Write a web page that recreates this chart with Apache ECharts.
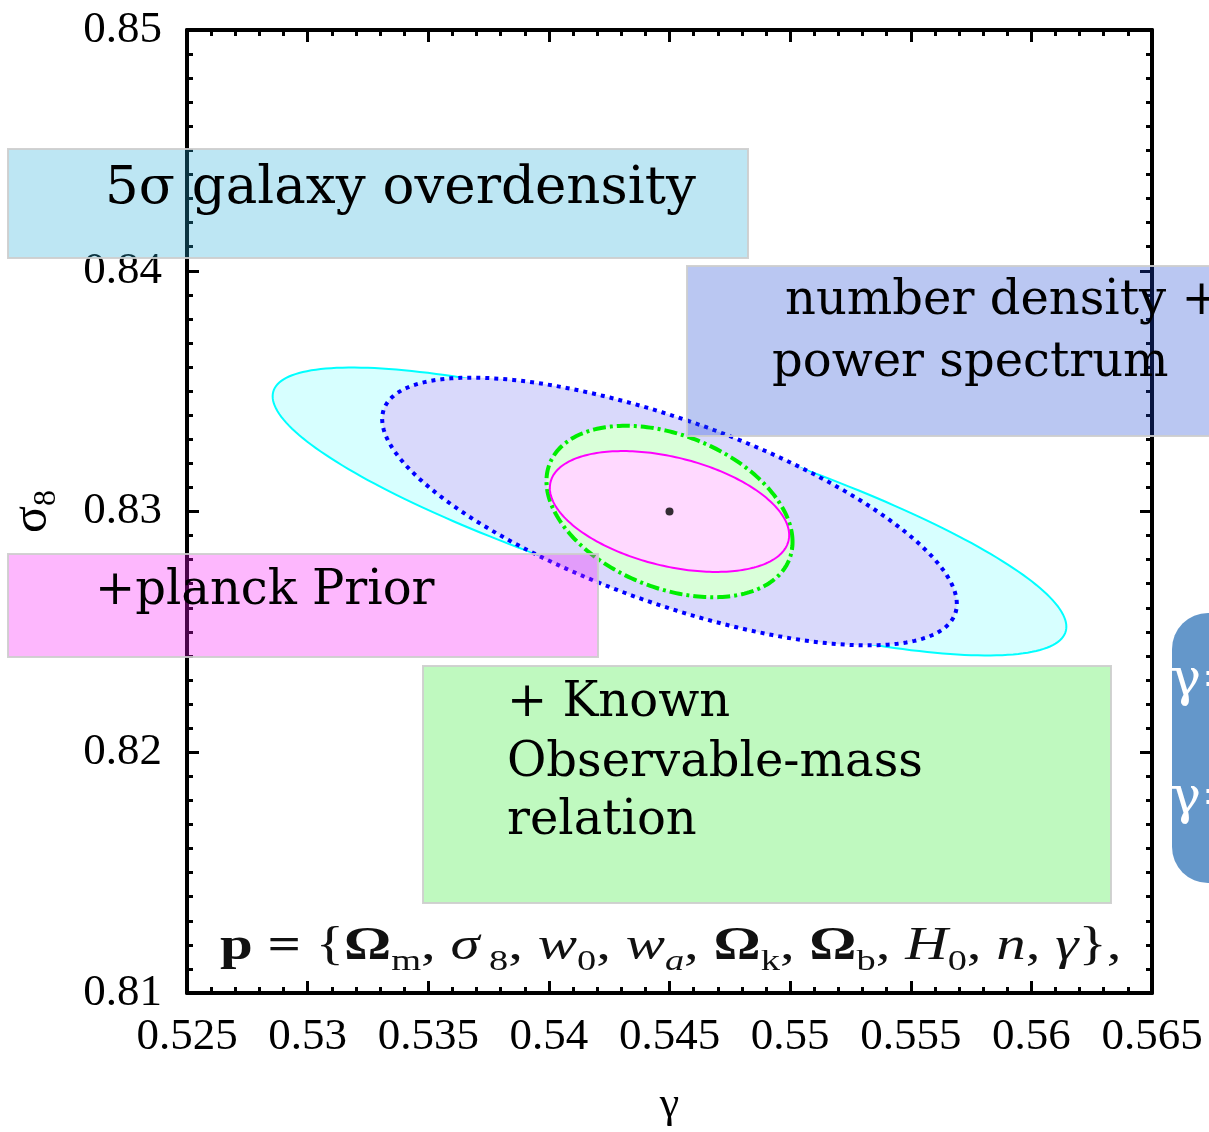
<!DOCTYPE html>
<html><head><meta charset="utf-8">
<script src="https://cdn.jsdelivr.net/npm/echarts@6/dist/echarts.min.js"></script>
<style>html,body{margin:0;padding:0;background:#fff}#c{width:1209px;height:1132px}</style>
</head><body><div id="c"></div>
<script>
// ---- data ----
const gammaTicks = [0.525, 0.53, 0.535, 0.54, 0.545, 0.55, 0.555, 0.56, 0.565];
const sigma8Ticks = [0.81, 0.82, 0.83, 0.84, 0.85];
const contourNames = ['5σ galaxy overdensity', 'number density + power spectrum', '+ Known Observable-mass relation', '+planck Prior'];
const centerGamma = [0.5450, 0.5450, 0.5450, 0.5450];
const centerSigma8 = [0.8300, 0.8300, 0.8300, 0.8300];
const halfWidthGamma = [0.01645, 0.01191, 0.00510, 0.00496];
const halfWidthSigma8 = [0.00598, 0.00556, 0.00356, 0.00251];
const correlation = [-0.80, -0.69, -0.355, -0.39];
const fiducialGamma = [0.545];
const fiducialSigma8 = [0.830];

// ---- styles ----
const serif = '"Liberation Serif", "Times New Roman", serif';
const boxSerif = '"DejaVu Serif", serif';
const contourStyles = [
  { fill: '#d7ffff', stroke: '#00ffff', lineWidth: 2, lineDash: null },
  { fill: '#d9d9fb', stroke: '#0000ff', lineWidth: 4, lineDash: [4, 5] },
  { fill: '#d9ffd9', stroke: '#00ee00', lineWidth: 4, lineDash: [13, 4, 3, 4] },
  { fill: '#ffd9ff', stroke: '#ff00ff', lineWidth: 2, lineDash: null }
];

const ellipseData = contourNames.map((n, i) => [centerGamma[i], centerSigma8[i], halfWidthGamma[i], halfWidthSigma8[i], correlation[i]]);

function renderEllipse(params, api) {
  const cx = api.value(0), cy = api.value(1), a = api.value(2), b = api.value(3), r = api.value(4);
  const s = Math.sqrt(1 - r * r);
  const pts = [];
  const N = 240;
  for (let k = 0; k < N; k++) {
    const t = 2 * Math.PI * k / N;
    pts.push(api.coord([cx + a * Math.cos(t), cy + b * (r * Math.cos(t) + s * Math.sin(t))]));
  }
  const st = contourStyles[params.dataIndex];
  return {
    type: 'polygon',
    shape: { points: pts },
    style: { fill: st.fill, stroke: st.stroke, lineWidth: st.lineWidth, lineDash: st.lineDash, lineCap: 'butt' }
  };
}

function xAxisCfg(pos, show) {
  return {
    type: 'value', position: pos, min: gammaTicks[0], max: gammaTicks[gammaTicks.length - 1], interval: 0.005,
    axisLine: { show: true, onZero: false, lineStyle: { color: '#000', width: 4 } },
    axisTick: { show: true, inside: true, length: 12, lineStyle: { color: '#000', width: 3 } },
    minorTick: { show: true, splitNumber: 5, length: 6, lineStyle: { color: '#000', width: 3 } },
    splitLine: { show: false }, minorSplitLine: { show: false },
    axisLabel: { show: show, interval: 0, margin: 22, fontFamily: serif, fontSize: 45, color: '#000',
      formatter: v => String(+(+v).toFixed(3)) },
    name: show ? 'γ' : '', nameLocation: 'middle', nameGap: 90,
    nameTextStyle: { fontFamily: serif, fontSize: 44, color: '#000' }
  };
}
function yAxisCfg(pos, show) {
  return {
    type: 'value', position: pos, min: sigma8Ticks[0], max: sigma8Ticks[sigma8Ticks.length - 1], interval: 0.01,
    axisLine: { show: true, onZero: false, lineStyle: { color: '#000', width: 4 } },
    axisTick: { show: true, inside: true, length: 12, lineStyle: { color: '#000', width: 3 } },
    minorTick: { show: true, splitNumber: 10, length: 6, lineStyle: { color: '#000', width: 3 } },
    splitLine: { show: false }, minorSplitLine: { show: false },
    axisLabel: { show: show, interval: 0, margin: 25, fontFamily: serif, fontSize: 45, color: '#000',
      formatter: v => String(+(+v).toFixed(2)) },
    name: show ? '{m|σ}{s|8}' : '', nameLocation: 'middle', nameGap: 124,
    nameTextStyle: { fontFamily: serif, color: '#000',
      rich: { m: { fontFamily: serif, fontSize: 50, lineHeight: 60, color: '#000' },
              s: { fontFamily: serif, fontSize: 32, verticalAlign: 'bottom', color: '#000' } } }
  };
}

function boxText(str, x, baseline, size, color) {
  return { type: 'text', z: 101, x: x, y: baseline - 0.35 * size,
    style: { text: str, fontFamily: boxSerif, fontSize: size, fill: color || '#000',
      textVerticalAlign: 'middle', verticalAlign: 'middle', textAlign: 'left', align: 'left' } };
}
function box(x, y, w, h, fill, r) {
  return { type: 'rect', z: 100, shape: { x: x, y: y, width: w, height: h, r: r || 0 },
    style: { fill: fill, stroke: r ? null : 'rgba(205,205,205,0.9)', lineWidth: 2 } };
}

const fsz = 46, ssz = 30;
const formulaRich = {
  b: { fontFamily: serif, fontWeight: 'bold', fontSize: fsz, lineHeight: 60, color: '#111' },
  n: { fontFamily: serif, fontSize: fsz, lineHeight: 60, color: '#111' },
  o: { fontFamily: serif, fontWeight: 'bold', fontSize: fsz, lineHeight: 60, color: '#111' },
  i: { fontFamily: serif, fontStyle: 'italic', fontSize: fsz, lineHeight: 60, color: '#111' },
  s: { fontFamily: serif, fontSize: ssz, verticalAlign: 'bottom', color: '#111' },
  si: { fontFamily: serif, fontStyle: 'italic', fontSize: ssz, verticalAlign: 'bottom', color: '#111' }
};
const formula = '{b|p}{b| = }{n|{}{o|Ω}{s|m}{n|, }{i|σ}{s| 8}{n|, }{i|w}{s|0}{n|, }{i|w}{si|a}{n|, }{o|Ω}{s|k}{n|, }{o|Ω}{s|b}{n|, }{i|H}{s|0}{n|, }{i|n}{n|, }{i|γ}},';

const option = {
  animation: false,
  backgroundColor: '#fff',
  grid: { left: 185, right: 57, top: 30, bottom: 136, containLabel: false },
  xAxis: [xAxisCfg('bottom', true), xAxisCfg('top', false)],
  yAxis: [yAxisCfg('left', true), yAxisCfg('right', false)],
  series: [
    { type: 'custom', name: 'contours', xAxisIndex: 0, yAxisIndex: 0, renderItem: renderEllipse,
      data: ellipseData, encode: { x: 0, y: 1 }, z: 2, silent: true },
    { type: 'scatter', xAxisIndex: 0, yAxisIndex: 0, data: fiducialGamma.map((g, i) => [g, fiducialSigma8[i]]),
      symbol: 'circle', symbolSize: 8, itemStyle: { color: '#000' }, z: 5, silent: true }
  ],
  graphic: [
    box(8, 149, 740, 109, 'rgba(35,172,215,0.3)'),
    boxText('5σ galaxy overdensity', 105, 208, 53),
    box(687, 266, 560, 170, 'rgba(28,68,212,0.3)'),
    boxText('number density +', 785, 318, 48),
    boxText('power spectrum', 772, 380, 48),
    box(8, 554, 590, 103, 'rgba(248,18,248,0.3)'),
    boxText('+planck Prior', 95, 608, 48),
    box(423, 666, 688, 237, 'rgba(42,235,42,0.3)'),
    boxText('+ Known', 507, 720, 48),
    boxText('Observable-mass', 507, 780, 48),
    boxText('relation', 507, 838, 48),
    box(1172, 613, 110, 270, '#6497ca', 36),
    boxText('γ=', 1170, 700, 52, '#fff'),
    boxText('γ=', 1170, 818, 52, '#fff'),
    { type: 'text', z: 101, x: 220, y: 947, scaleX: 1.28, scaleY: 1,
      style: { text: formula, rich: formulaRich, fontFamily: serif, fontSize: fsz, lineHeight: 60, fill: '#111',
        textVerticalAlign: 'middle', verticalAlign: 'middle' } }
  ]
};
echarts.init(document.getElementById('c')).setOption(option);
</script>
</body></html>
